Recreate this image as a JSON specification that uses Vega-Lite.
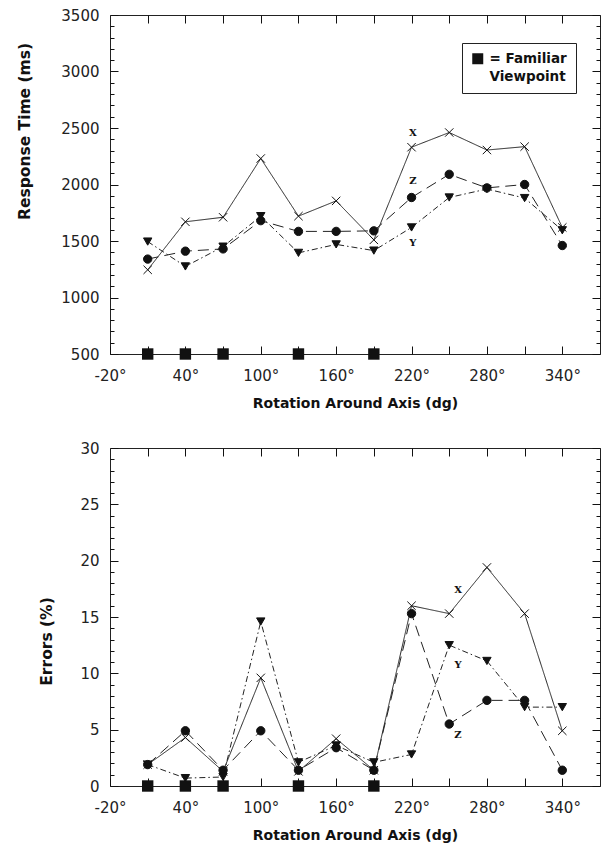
{
  "$schema": "https://vega.github.io/schema/vega-lite/v6.json",
  "background": "white",
  "padding": {"left": 16, "top": 7, "right": 5, "bottom": 2},
  "bounds": "flush",
  "spacing": 94,
  "datasets": {
    "rt": [
      {"series": "X", "rotation": 10, "value": 1245},
      {"series": "X", "rotation": 40, "value": 1670},
      {"series": "X", "rotation": 70, "value": 1710},
      {"series": "X", "rotation": 100, "value": 2230},
      {"series": "X", "rotation": 130, "value": 1720},
      {"series": "X", "rotation": 160, "value": 1855},
      {"series": "X", "rotation": 190, "value": 1510},
      {"series": "X", "rotation": 220, "value": 2330},
      {"series": "X", "rotation": 250, "value": 2460},
      {"series": "X", "rotation": 280, "value": 2305},
      {"series": "X", "rotation": 310, "value": 2335},
      {"series": "X", "rotation": 340, "value": 1620},
      {"series": "Z", "rotation": 10, "value": 1340},
      {"series": "Z", "rotation": 40, "value": 1410},
      {"series": "Z", "rotation": 70, "value": 1430},
      {"series": "Z", "rotation": 100, "value": 1680},
      {"series": "Z", "rotation": 130, "value": 1585},
      {"series": "Z", "rotation": 160, "value": 1585},
      {"series": "Z", "rotation": 190, "value": 1590},
      {"series": "Z", "rotation": 220, "value": 1885},
      {"series": "Z", "rotation": 250, "value": 2090},
      {"series": "Z", "rotation": 280, "value": 1970},
      {"series": "Z", "rotation": 310, "value": 2000},
      {"series": "Z", "rotation": 340, "value": 1460},
      {"series": "Y", "rotation": 10, "value": 1495},
      {"series": "Y", "rotation": 40, "value": 1275},
      {"series": "Y", "rotation": 70, "value": 1450},
      {"series": "Y", "rotation": 100, "value": 1720},
      {"series": "Y", "rotation": 130, "value": 1395},
      {"series": "Y", "rotation": 160, "value": 1470},
      {"series": "Y", "rotation": 190, "value": 1415},
      {"series": "Y", "rotation": 220, "value": 1620},
      {"series": "Y", "rotation": 250, "value": 1885},
      {"series": "Y", "rotation": 280, "value": 1960},
      {"series": "Y", "rotation": 310, "value": 1880},
      {"series": "Y", "rotation": 340, "value": 1595}
    ],
    "err": [
      {"series": "X", "rotation": 10, "value": 1.9},
      {"series": "X", "rotation": 40, "value": 4.3},
      {"series": "X", "rotation": 70, "value": 1.3},
      {"series": "X", "rotation": 100, "value": 9.6},
      {"series": "X", "rotation": 130, "value": 1.3},
      {"series": "X", "rotation": 160, "value": 4.2},
      {"series": "X", "rotation": 190, "value": 1.4},
      {"series": "X", "rotation": 220, "value": 16.0},
      {"series": "X", "rotation": 250, "value": 15.3},
      {"series": "X", "rotation": 280, "value": 19.4},
      {"series": "X", "rotation": 310, "value": 15.3},
      {"series": "X", "rotation": 340, "value": 4.9},
      {"series": "Z", "rotation": 10, "value": 1.9},
      {"series": "Z", "rotation": 40, "value": 4.9},
      {"series": "Z", "rotation": 70, "value": 1.4},
      {"series": "Z", "rotation": 100, "value": 4.9},
      {"series": "Z", "rotation": 130, "value": 1.4},
      {"series": "Z", "rotation": 160, "value": 3.4},
      {"series": "Z", "rotation": 190, "value": 1.4},
      {"series": "Z", "rotation": 220, "value": 15.3},
      {"series": "Z", "rotation": 250, "value": 5.5},
      {"series": "Z", "rotation": 280, "value": 7.6},
      {"series": "Z", "rotation": 310, "value": 7.6},
      {"series": "Z", "rotation": 340, "value": 1.4},
      {"series": "Y", "rotation": 10, "value": 1.9},
      {"series": "Y", "rotation": 40, "value": 0.7},
      {"series": "Y", "rotation": 70, "value": 0.8},
      {"series": "Y", "rotation": 100, "value": 14.6},
      {"series": "Y", "rotation": 130, "value": 2.1},
      {"series": "Y", "rotation": 160, "value": 3.6},
      {"series": "Y", "rotation": 190, "value": 2.1},
      {"series": "Y", "rotation": 220, "value": 2.8},
      {"series": "Y", "rotation": 250, "value": 12.5},
      {"series": "Y", "rotation": 280, "value": 11.1},
      {"series": "Y", "rotation": 310, "value": 7.0},
      {"series": "Y", "rotation": 340, "value": 7.0}
    ],
    "familiar": [
      {"kind": "Familiar Viewpoint", "rotation": 10, "rt": 500, "err": 0},
      {"kind": "Familiar Viewpoint", "rotation": 40, "rt": 500, "err": 0},
      {"kind": "Familiar Viewpoint", "rotation": 70, "rt": 500, "err": 0},
      {"kind": "Familiar Viewpoint", "rotation": 130, "rt": 500, "err": 0},
      {"kind": "Familiar Viewpoint", "rotation": 190, "rt": 500, "err": 0}
    ],
    "rtLabels": [
      {"label": "X", "rotation": 221, "value": 2460},
      {"label": "Z", "rotation": 221, "value": 2032},
      {"label": "Y", "rotation": 221, "value": 1478}
    ],
    "errLabels": [
      {"label": "X", "rotation": 257, "value": 17.4},
      {"label": "Y", "rotation": 257, "value": 10.7},
      {"label": "Z", "rotation": 257, "value": 4.5}
    ]
  },
  "config": {
    "font": "DejaVu Sans",
    "view": {"stroke": "#222", "strokeWidth": 1},
    "axis": {
      "domain": false,
      "grid": false,
      "labelFont": "DejaVu Sans",
      "labelFontSize": 15,
      "labelColor": "#222",
      "tickColor": "#111",
      "tickWidth": 1,
      "titleFont": "DejaVu Sans",
      "titleFontSize": 14,
      "titleFontWeight": "bold",
      "titleColor": "#111",
      "labelOverlap": false,
      "labelFlush": false
    },
    "legend": {
      "title": " ",
      "titleFontSize": 1,
      "titlePadding": 6,
      "orient": "none",
      "strokeColor": "#222",
      "padding": 9,
      "symbolSize": 121,
      "symbolType": "square",
      "symbolStrokeWidth": 0,
      "labelFont": "DejaVu Sans",
      "labelFontSize": 13.5,
      "labelFontWeight": "bold",
      "labelColor": "#111",
      "labelOffset": 5,
      "labelLimit": 0
    }
  },
  "vconcat": [
    {
      "width": 490,
      "height": 339,
      "resolve": {"axis": {"x": "independent", "y": "independent"}},
      "layer": [
        {
          "data": {"name": "rt"},
          "mark": {"type": "point", "opacity": 0},
          "encoding": {
            "x": {"field": "rotation", "type": "quantitative",
              "scale": {"domain": [-20, 370], "nice": false, "zero": false},
              "axis": {"orient": "top", "values": [10, 40, 70, 100, 130, 160, 190, 220, 250, 280, 310, 340], "labels": false, "tickSize": -8, "title": null}},
            "y": {"field": "value", "type": "quantitative",
              "scale": {"domain": [500, 3500], "nice": false, "zero": false},
              "axis": {"orient": "right", "values": [500,600,700,800,900,1000,1100,1200,1300,1400,1500,1600,1700,1800,1900,2000,2100,2200,2300,2400,2500,2600,2700,2800,2900,3000,3100,3200,3300,3400,3500], "labels": false, "title": null,
                "tickSize": {"condition": {"test": "datum.value % 500 === 0", "value": -8}, "value": -4}}}
          }
        },
        {
          "data": {"name": "rt"},
          "mark": {"type": "line", "strokeWidth": 1, "color": "#222"},
          "encoding": {
            "x": {"field": "rotation", "type": "quantitative",
              "axis": {"orient": "bottom", "values": [-20, 10, 40, 70, 100, 130, 160, 190, 220, 250, 280, 310, 340],
                "labelExpr": "(datum.value + 20) % 60 === 0 ? datum.value + '°' : ''",
                "tickSize": -8, "labelPadding": 22, "title": "Rotation Around Axis (dg)", "titlePadding": 13}},
            "y": {"field": "value", "type": "quantitative",
              "axis": {"orient": "left", "values": [500,600,700,800,900,1000,1100,1200,1300,1400,1500,1600,1700,1800,1900,2000,2100,2200,2300,2400,2500,2600,2700,2800,2900,3000,3100,3200,3300,3400,3500],
                "labelExpr": "datum.value % 500 === 0 ? '' + datum.value : ''",
                "tickSize": {"condition": {"test": "datum.value % 500 === 0", "value": -8}, "value": -4},
                "labelPadding": 19,
                "title": "Response Time (ms)", "titleFontSize": 15.5, "titleX": -86, "titleY": 116, "titleBaseline": "middle", "titleAlign": "center", "titleAngle": -90}},
            "strokeDash": {"field": "series", "type": "nominal",
              "scale": {"domain": ["X", "Y", "Z"], "range": [[1, 0], [6, 3, 1.5, 3], [11, 6]]}, "legend": null}
          }
        },
        {
          "data": {"name": "rt"},
          "mark": {"type": "point", "filled": true, "opacity": 1, "size": 70, "strokeWidth": 1},
          "encoding": {
            "x": {"field": "rotation", "type": "quantitative", "axis": null},
            "y": {"field": "value", "type": "quantitative", "axis": null},
            "shape": {"field": "series", "type": "nominal",
              "scale": {"domain": ["X", "Y", "Z"], "range": ["M-1,-1L1,1M-1,1L1,-1", "triangle-down", "circle"]}, "legend": null},
            "fill": {"condition": {"test": "datum.series === 'X'", "value": "transparent"}, "value": "#111"},
            "stroke": {"value": "#111"}
          }
        },
        {
          "data": {"name": "familiar"},
          "mark": {"type": "square", "filled": true, "opacity": 1, "size": 130},
          "encoding": {
            "x": {"field": "rotation", "type": "quantitative", "axis": null},
            "y": {"field": "rt", "type": "quantitative", "axis": null},
            "color": {"field": "kind", "type": "nominal", "scale": {"range": ["#111"]},
              "legend": {"legendX": 352, "legendY": 28, "labelExpr": "['= Familiar', 'Viewpoint']",
                "encoding": {"labels": {"lineHeight": {"value": 18.5}}}}}
          }
        },
        {
          "data": {"name": "rtLabels"},
          "mark": {"type": "text", "font": "DejaVu Serif", "fontWeight": "bold", "fontSize": 10, "color": "#111"},
          "encoding": {
            "x": {"field": "rotation", "type": "quantitative", "axis": null},
            "y": {"field": "value", "type": "quantitative", "axis": null},
            "text": {"field": "label"}
          }
        }
      ]
    },
    {
      "width": 490,
      "height": 338,
      "resolve": {"axis": {"x": "independent", "y": "independent"}},
      "layer": [
        {
          "data": {"name": "err"},
          "mark": {"type": "point", "opacity": 0},
          "encoding": {
            "x": {"field": "rotation", "type": "quantitative",
              "scale": {"domain": [-20, 370], "nice": false, "zero": false},
              "axis": {"orient": "top", "values": [10, 40, 70, 100, 130, 160, 190, 220, 250, 280, 310, 340], "labels": false, "tickSize": -8, "title": null}},
            "y": {"field": "value", "type": "quantitative",
              "scale": {"domain": [0, 30], "nice": false, "zero": false},
              "axis": {"orient": "right", "values": [0,1,2,3,4,5,6,7,8,9,10,11,12,13,14,15,16,17,18,19,20,21,22,23,24,25,26,27,28,29,30], "labels": false, "title": null,
                "tickSize": {"condition": {"test": "datum.value % 5 === 0", "value": -8}, "value": -4}}}
          }
        },
        {
          "data": {"name": "err"},
          "mark": {"type": "line", "strokeWidth": 1, "color": "#222"},
          "encoding": {
            "x": {"field": "rotation", "type": "quantitative",
              "axis": {"orient": "bottom", "values": [-20, 10, 40, 70, 100, 130, 160, 190, 220, 250, 280, 310, 340],
                "labelExpr": "(datum.value + 20) % 60 === 0 ? datum.value + '°' : ''",
                "tickSize": -8, "labelPadding": 22, "title": "Rotation Around Axis (dg)", "titlePadding": 13}},
            "y": {"field": "value", "type": "quantitative",
              "axis": {"orient": "left", "values": [0,1,2,3,4,5,6,7,8,9,10,11,12,13,14,15,16,17,18,19,20,21,22,23,24,25,26,27,28,29,30],
                "labelExpr": "datum.value % 5 === 0 ? '' + datum.value : ''",
                "tickSize": {"condition": {"test": "datum.value % 5 === 0", "value": -8}, "value": -4},
                "labelPadding": 19,
                "title": "Errors (%)", "titleFontSize": 15.5, "titleX": -64, "titleY": 193, "titleBaseline": "middle", "titleAlign": "center", "titleAngle": -90}},
            "strokeDash": {"field": "series", "type": "nominal",
              "scale": {"domain": ["X", "Y", "Z"], "range": [[1, 0], [6, 3, 1.5, 3], [11, 6]]}, "legend": null}
          }
        },
        {
          "data": {"name": "err"},
          "mark": {"type": "point", "filled": true, "opacity": 1, "size": 70, "strokeWidth": 1},
          "encoding": {
            "x": {"field": "rotation", "type": "quantitative", "axis": null},
            "y": {"field": "value", "type": "quantitative", "axis": null},
            "shape": {"field": "series", "type": "nominal",
              "scale": {"domain": ["X", "Y", "Z"], "range": ["M-1,-1L1,1M-1,1L1,-1", "triangle-down", "circle"]}, "legend": null},
            "fill": {"condition": {"test": "datum.series === 'X'", "value": "transparent"}, "value": "#111"},
            "stroke": {"value": "#111"}
          }
        },
        {
          "data": {"name": "familiar"},
          "mark": {"type": "square", "filled": true, "opacity": 1, "size": 130},
          "encoding": {
            "x": {"field": "rotation", "type": "quantitative", "axis": null},
            "y": {"field": "err", "type": "quantitative", "axis": null},
            "color": {"field": "kind", "type": "nominal", "scale": {"range": ["#111"]},
              "legend": {"legendX": 348, "legendY": 30, "labelExpr": "['= Familiar', 'Viewpoint']",
                "encoding": {"labels": {"lineHeight": {"value": 18.5}}}}}
          }
        },
        {
          "data": {"name": "errLabels"},
          "mark": {"type": "text", "font": "DejaVu Serif", "fontWeight": "bold", "fontSize": 10, "color": "#111"},
          "encoding": {
            "x": {"field": "rotation", "type": "quantitative", "axis": null},
            "y": {"field": "value", "type": "quantitative", "axis": null},
            "text": {"field": "label"}
          }
        }
      ]
    }
  ]
}
